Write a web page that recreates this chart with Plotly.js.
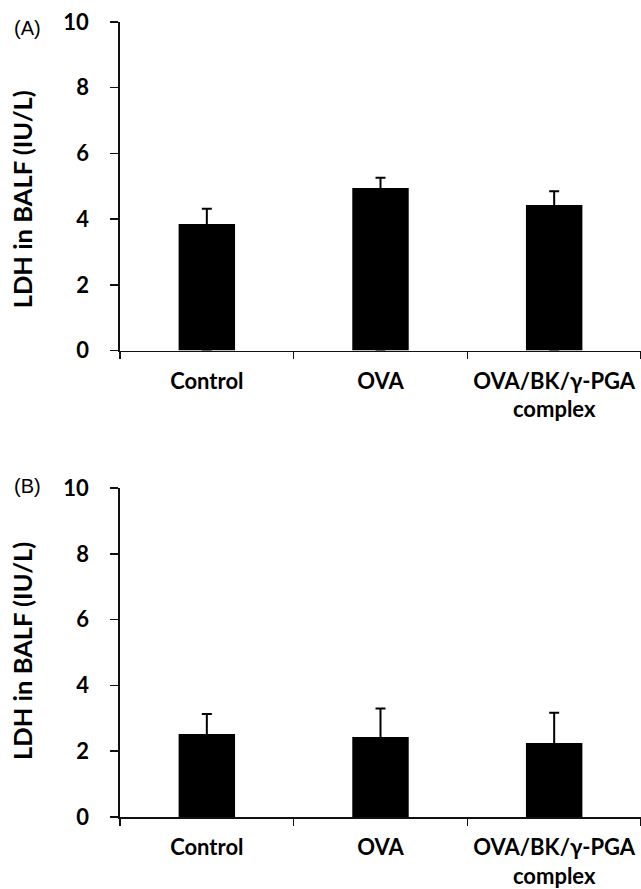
<!DOCTYPE html>
<html>
<head>
<meta charset="utf-8">
<script src="https://cdn.plot.ly/plotly-3.0.1.min.js"></script>
<style>html,body{margin:0;padding:0;background:#fff;}#chart{width:641px;height:889px;}</style>
</head>
<body>
<div id="chart"></div>
<script>
const categories = ['Control', 'OVA', 'OVA/BK/γ-PGA<br>complex'];
const meanA = [3.85, 4.95, 4.43];
const errA = [0.47, 0.31, 0.42];
const meanB = [2.52, 2.43, 2.25];
const errB = [0.61, 0.87, 0.92];
const yTicks = [0, 2, 4, 6, 8, 10];
const yTitle = 'LDH in BALF (IU/L)';
const panelLabels = ['(A)', '(B)'];

const F = 'Lato, "Open Sans", sans-serif';

function barTrace(vals, errs, xa, ya) {
  return {
    type: 'bar', x: categories, y: vals, xaxis: xa, yaxis: ya,
    width: 0.325,
    marker: {color: '#000', line: {width: 0}},
    // the lower half of each error bar runs hidden inside its black bar
    error_y: {type: 'data', symmetric: false, array: errs, arrayminus: vals,
              color: '#000', thickness: 2, width: 5},
    showlegend: false, hoverinfo: 'skip'
  };
}

const tickFont = {family: F, size: 22, color: '#000', weight: 700};
const xTickFont = {family: F, size: 22, color: '#000', weight: 700};

function xAxis(anchor) {
  return {
    anchor: anchor, domain: [0, 1], type: 'category', range: [-0.5, 2.5],
    showline: true, linecolor: '#111', linewidth: 1.7,
    ticks: 'outside', tickson: 'boundaries', ticklen: 7, tickwidth: 1.5, tickcolor: '#111',
    tickangle: 0,
    tickfont: xTickFont, ticklabelstandoff: 10, showgrid: false, zeroline: false, fixedrange: true
  };
}
function yAxis(anchor, dom) {
  return {
    anchor: anchor, domain: dom, range: [0, 10], tickvals: yTicks, ticktext: yTicks.map(String),
    showline: true, linecolor: '#111', linewidth: 1.7,
    ticks: 'outside', ticklen: 8, tickwidth: 1.5, tickcolor: '#111',
    tickfont: tickFont, ticklabelstandoff: 17, showgrid: false, zeroline: false, fixedrange: true
  };
}

const data = [barTrace(meanA, errA, 'x', 'y'), barTrace(meanB, errB, 'x2', 'y2')];

const labelFont = {family: '"Liberation Sans", Arial, sans-serif', size: 20, color: '#000'};
const titleFont = {family: F, size: 25.5, color: '#000', weight: 700};

const layout = {
  width: 641, height: 889,
  margin: {l: 120, r: 0, t: 22, b: 72, pad: 0},
  paper_bgcolor: '#fff', plot_bgcolor: '#fff',
  xaxis: xAxis('y'), yaxis: yAxis('x', [0.5867, 1]),
  xaxis2: xAxis('y2'), yaxis2: yAxis('x2', [0, 0.4137]),
  annotations: [
    {text: panelLabels[0], xref: 'paper', yref: 'paper', x: -0.2073, y: 0.993, xanchor: 'left', yanchor: 'middle',
     showarrow: false, font: labelFont},
    {text: panelLabels[1], xref: 'paper', yref: 'paper', x: -0.2073, y: 0.4165, xanchor: 'left', yanchor: 'middle',
     showarrow: false, font: labelFont},
    {text: yTitle, xref: 'paper', yref: 'paper', x: -0.188, y: 0.777, xanchor: 'center', yanchor: 'middle',
     textangle: -90, showarrow: false, font: titleFont},
    {text: yTitle, xref: 'paper', yref: 'paper', x: -0.188, y: 0.209, xanchor: 'center', yanchor: 'middle',
     textangle: -90, showarrow: false, font: titleFont}
  ]
};

Plotly.newPlot('chart', data, layout, {displayModeBar: false, staticPlot: true});
</script>
</body>
</html>
